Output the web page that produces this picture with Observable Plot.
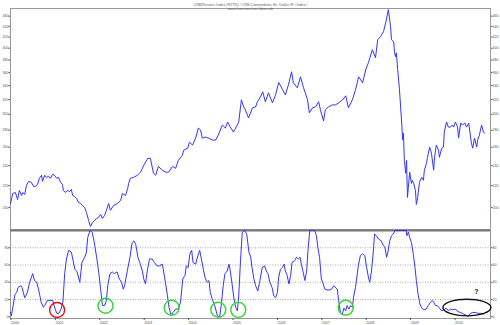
<!DOCTYPE html>
<html>
<head>
<meta charset="utf-8">
<script src="https://cdn.jsdelivr.net/npm/d3@7"></script>
<script src="https://cdn.jsdelivr.net/npm/@observablehq/plot@0.6"></script>
<style>
  html, body { margin: 0; padding: 0; background: #fff; }
  #chart svg { display: block; }
</style>
</head>
<body>
<div id="chart"></div>
<script>
// ---- Data ----
const titleLines = [
  "CRB/Reuters Index (RTTR) / CRB Commodities Ex. Dollar W / Index /",
  "www.Investorchart-Ideen.de"
];

const crbYears = [
  2000.00,2000.05,2000.11,2000.16,2000.20,2000.25,2000.28,2000.32,2000.36,2000.41,2000.47,2000.52,2000.56,2000.61,2000.65,2000.70,2000.72,2000.77,2000.81,2000.86,2000.90,2000.95,2000.99,
  2001.04,2001.08,2001.13,2001.17,2001.19,2001.24,2001.28,2001.33,2001.37,2001.40,2001.44,2001.49,2001.53,2001.58,2001.62,2001.67,2001.71,2001.76,2001.80,2001.85,2001.89,2001.94,2001.98,
  2002.03,2002.07,2002.12,2002.16,2002.21,2002.25,2002.32,2002.41,2002.48,2002.52,2002.59,2002.64,2002.66,2002.70,2002.77,2002.86,2002.93,
  2003.00,2003.09,2003.15,2003.22,2003.27,2003.33,2003.42,2003.49,2003.56,2003.65,2003.72,2003.78,2003.87,2003.90,2003.99,
  2004.03,2004.10,2004.17,2004.23,2004.28,2004.32,2004.39,2004.46,2004.55,2004.62,2004.68,2004.77,2004.84,2004.89,2004.95,
  2005.02,2005.07,2005.14,2005.20,2005.25,2005.29,2005.36,2005.45,2005.52,2005.56,2005.63,2005.68,2005.74,2005.81,2005.90,2005.97,
  2006.04,2006.13,2006.19,2006.26,2006.33,2006.37,2006.46,2006.53,2006.60,2006.69,2006.73,2006.80,2006.87,2006.94,2006.98,
  2007.05,2007.09,2007.16,2007.25,2007.32,2007.39,2007.48,2007.55,2007.61,2007.70,2007.77,2007.84,2007.93,
  2008.00,2008.06,2008.15,2008.22,2008.27,2008.33,2008.40,2008.45,2008.51,2008.56,2008.58,2008.63,2008.65,2008.67,2008.69,2008.72,2008.76,2008.81,2008.83,2008.85,2008.87,2008.90,2008.92,2008.94,2008.96,2008.99,
  2009.03,2009.05,2009.08,2009.12,2009.14,2009.17,2009.21,2009.26,2009.30,2009.32,2009.37,2009.39,2009.44,2009.48,2009.53,2009.55,2009.59,2009.64,2009.66,2009.71,2009.75,2009.77,2009.82,2009.86,2009.91,2009.95,2009.98,
  2010.02,2010.07,2010.09,2010.14,2010.18,2010.23,2010.27,2010.32,2010.34,2010.38,2010.41,2010.45,2010.50,2010.52,2010.56,2010.61,2010.65,2010.68
];
const crbValues = [
  203.5,212.5,213.5,207.0,215.4,210.7,213.5,211.6,220.2,224.1,223.1,219.2,219.2,221.1,227.1,230.1,224.1,230.1,228.0,229.1,227.1,231.1,230.1,
  227.1,228.0,223.1,221.1,215.4,213.5,215.4,214.4,216.3,210.7,209.8,208.0,204.4,203.5,201.7,200.0,195.7,189.0,184.1,187.4,189.0,190.7,191.5,
  194.0,190.7,193.2,197.4,203.5,197.5,201.7,203.5,206.2,212.5,210.7,217.3,222.1,227.1,228.0,230.1,233.2,
  240.2,247.7,247.7,232.1,230.1,239.2,235.2,233.2,233.2,239.2,237.1,245.5,250.9,256.6,258.9,
  265.8,262.4,270.5,282.6,280.2,270.5,271.7,270.5,268.2,268.2,274.1,286.4,282.6,290.2,283.8,
  277.7,282.6,290.2,319.6,309.9,305.9,295.3,308.6,309.9,316.8,323.8,330.9,316.8,329.5,315.4,326.6,
  344.6,333.8,326.6,341.2,361.1,344.2,336.7,353.3,336.7,319.6,301.9,308.6,309.9,316.8,305.9,
  291.5,305.9,309.9,312.6,312.6,315.4,319.6,325.2,308.6,319.6,333.8,353.3,344.2,
  364.3,375.6,397.5,383.8,415.2,420.7,429.9,447.1,473.3,439.3,415.2,411.6,392.3,385.5,392.3,364.3,333.8,288.9,268.2,276.5,245.5,232.1,245.5,208.9,218.2,233.2,
  222.1,225.1,222.1,215.4,202.6,208.9,223.1,228.0,225.1,235.2,242.3,248.8,260.1,253.3,235.2,248.8,262.4,256.6,248.8,258.9,260.1,277.7,290.2,283.8,283.8,286.4,283.8,
  290.2,283.8,270.5,288.9,286.4,288.9,283.8,288.9,280.2,264.7,258.9,270.5,260.1,268.2,274.1,286.4,277.7,276.5
];

const oscYears = [
  2000.00,2000.02,2000.06,2000.10,2000.14,2000.17,2000.23,2000.26,2000.32,2000.38,2000.43,2000.50,2000.54,2000.59,2000.64,2000.69,2000.74,2000.77,2000.83,2000.90,2000.95,
  2001.00,2001.04,2001.09,2001.14,2001.18,2001.22,2001.26,2001.31,2001.37,2001.41,2001.45,2001.50,2001.56,2001.61,2001.67,2001.71,2001.74,2001.79,2001.84,2001.88,2001.94,2001.99,
  2002.03,2002.07,2002.12,2002.16,2002.19,2002.24,2002.29,2002.34,2002.40,2002.45,2002.50,2002.54,2002.57,2002.63,2002.69,2002.74,2002.78,2002.82,2002.87,2002.91,2002.97,
  2003.00,2003.04,2003.08,2003.13,2003.19,2003.24,2003.30,2003.36,2003.42,2003.47,2003.53,2003.57,2003.62,2003.66,2003.72,2003.78,2003.83,2003.88,2003.93,2003.96,
  2004.00,2004.04,2004.08,2004.11,2004.17,2004.22,2004.26,2004.30,2004.35,2004.39,2004.43,2004.47,2004.50,2004.54,2004.60,2004.66,2004.71,2004.75,2004.79,2004.83,2004.88,2004.92,2004.95,2004.99,
  2005.03,2005.07,2005.11,2005.14,2005.18,2005.22,2005.27,2005.32,2005.37,2005.41,2005.44,2005.48,2005.52,2005.57,2005.61,2005.67,2005.72,2005.77,2005.80,2005.84,2005.89,2005.93,2005.97,
  2006.01,2006.04,2006.08,2006.12,2006.16,2006.19,2006.23,2006.27,2006.31,2006.34,2006.40,2006.44,2006.48,2006.52,2006.55,2006.59,2006.63,2006.67,2006.70,2006.74,2006.80,2006.85,2006.89,2006.92,2006.96,
  2007.00,2007.03,2007.08,2007.13,2007.18,2007.23,2007.28,2007.36,2007.39,2007.43,2007.47,2007.51,2007.55,2007.58,2007.62,2007.66,2007.70,2007.73,2007.77,2007.81,2007.84,2007.88,2007.93,2007.98,
  2008.02,2008.06,2008.09,2008.13,2008.17,2008.20,2008.24,2008.29,2008.35,2008.39,2008.43,2008.47,2008.50,2008.54,2008.58,2008.62,2008.66,2008.71,2008.78,2008.86,2008.91,2008.93,2008.96,2008.99,
  2009.03,2009.07,2009.11,2009.14,2009.18,2009.22,2009.26,2009.31,2009.36,2009.41,2009.46,2009.50,2009.53,2009.57,2009.61,2009.66,2009.71,2009.76,2009.81,2009.86,2009.91,2009.96,
  2010.02,2010.07,2010.14,2010.21,2010.26,2010.30,2010.36,2010.41,2010.47,2010.52,2010.59,2010.65
];
const oscValues = [
  5,1,13,26,28,34,36,34,22,28,40,50,42,40,30,17,11,13,19,19,19,
  10,4,4,9,17,50,67,77,75,65,55,52,40,63,69,75,92,100,98,88,69,50,
  32,13,13,19,36,50,52,50,52,44,40,32,36,53,69,86,88,84,69,63,53,
  44,38,53,67,67,63,59,59,61,46,26,11,1,5,9,9,17,44,48,59,
  57,73,77,63,61,71,77,67,53,44,40,42,28,21,13,1,0,15,36,50,53,61,53,38,
  22,11,7,24,65,98,100,96,75,69,57,44,36,30,40,57,59,52,50,40,34,24,22,
  28,46,55,57,61,53,48,38,48,63,65,69,67,69,61,52,42,53,77,100,100,100,94,81,69,
  44,40,32,31,31,32,36,32,19,5,3,10,7,13,9,13,11,24,34,50,61,71,73,71,
  57,46,40,53,75,96,94,90,88,83,81,69,75,88,94,96,100,100,100,100,100,94,98,92,
  86,73,57,42,26,15,10,8,9,13,17,19,17,13,13,10,7,8,10,7,9,8,
  9,6,5,3,2,0,4,5,5,4,4,3
];

// annotation marks on the oscillator (year, oscillator level)
const redCircleYears = [2001.05];
const redCircleValues = [7.8];
const greenCircleYears = [2002.14, 2003.63, 2004.68, 2005.13, 2007.55];
const greenCircleValues = [12.8, 10.5, 8.1, 8.0, 10.5];
const blackEllipseYear = 2010.29;
const blackEllipseValue = 10.1;
const questionYear = 2010.49;
const questionValue = 29.4;

// ticks
const priceTicks = [200,220,240,260,280,300,320,340,360,380,400,420,440,460];
const oscTicks = [0,20,40,60,80];
const oscGrid = [20,40,60,80];
const yearTicks = [2000,2001,2002,2003,2004,2005,2006,2007,2008,2009,2010];
const xDomain = [2000, 2010.81];

// ---- build tables ----
const crb = crbYears.map((y, i) => ({year: y, value: crbValues[i]}));
const osc = oscYears.map((y, i) => ({year: y, value: oscValues[i]}));
const redC = redCircleYears.map((y, i) => ({year: y, value: redCircleValues[i]}));
const greenC = greenCircleYears.map((y, i) => ({year: y, value: greenCircleValues[i]}));

const FONT = "Liberation Sans, Arial, sans-serif";
const AX = "#555";
const LINE = "#3434ff";
const axOpts = {tickSize: 1.5, tickPadding: 0.6, fontSize: 3.6, tickFormat: d => String(d), color: AX, label: null};

const topPlot = Plot.plot({
  width: 500, height: 229,
  marginLeft: 10, marginRight: 10, marginTop: 8, marginBottom: 0,
  style: {fontFamily: FONT, background: "#fff", overflow: "visible"},
  x: {domain: xDomain, axis: null},
  y: {type: "log", domain: [181.7, 475.6], axis: null},
  marks: [
    Plot.frame({stroke: "#999"}),
    Plot.axisY({ticks: priceTicks, anchor: "left", ...axOpts}),
    Plot.axisY({ticks: priceTicks, anchor: "right", ...axOpts}),
    Plot.line(crb, {x: "year", y: "value", stroke: LINE, strokeWidth: 1}),
    Plot.text([titleLines[0]], {frameAnchor: "top", dy: -5.6, fontSize: 3.7, fill: "#666"}),
    Plot.text([titleLines[1]], {frameAnchor: "top", dy: -1.6, fontSize: 3.7, fill: "#666"})
  ]
});

const bottomPlot = Plot.plot({
  width: 500, height: 96,
  marginLeft: 10, marginRight: 10, marginTop: 1, marginBottom: 7,
  style: {fontFamily: FONT, background: "#fff", overflow: "visible"},
  x: {domain: xDomain, axis: null},
  y: {domain: [-2, 100], axis: null},
  marks: [
    Plot.gridY({ticks: oscGrid, stroke: "#aaa", strokeOpacity: 1, strokeDasharray: "1,1.5"}),
    Plot.frame({stroke: "#999"}),
    Plot.ruleY([100], {stroke: "#777", strokeWidth: 2}),
    Plot.axisY({ticks: oscTicks, anchor: "left", ...axOpts}),
    Plot.axisY({ticks: oscTicks, anchor: "right", ...axOpts}),
    Plot.axisX({ticks: yearTicks, anchor: "bottom", ...axOpts, tickSize: 2, tickPadding: 0.8, textAnchor: "start", dx: 0.5}),
    Plot.line(osc, {x: "year", y: "value", stroke: LINE, strokeWidth: 1}),
    Plot.dot(redC, {x: "year", y: "value", r: 7.5, stroke: "#e01010", strokeWidth: 1.4, fill: "none"}),
    Plot.dot(greenC, {x: "year", y: "value", r: 7.5, stroke: "#33d633", strokeWidth: 1.4, fill: "none"}),
    Plot.text(["?"], {x: () => questionYear, y: () => questionValue, fontSize: 7, fontWeight: "bold", fill: "#111"})
  ]
});

// black ellipse drawn in the plot's own scale coordinates
{
  const sx = bottomPlot.scale("x"), sy = bottomPlot.scale("y");
  const fx = d3.scaleLinear(sx.domain, sx.range);
  const fy = d3.scaleLinear(sy.domain, sy.range);
  d3.select(bottomPlot).append("ellipse")
    .attr("cx", fx(blackEllipseYear)).attr("cy", fy(blackEllipseValue))
    .attr("rx", 24).attr("ry", 8.3)
    .attr("fill", "none").attr("stroke", "#111").attr("stroke-width", 1.4);
}

const root = document.getElementById("chart");
root.append(topPlot, bottomPlot);
</script>
</body>
</html>
